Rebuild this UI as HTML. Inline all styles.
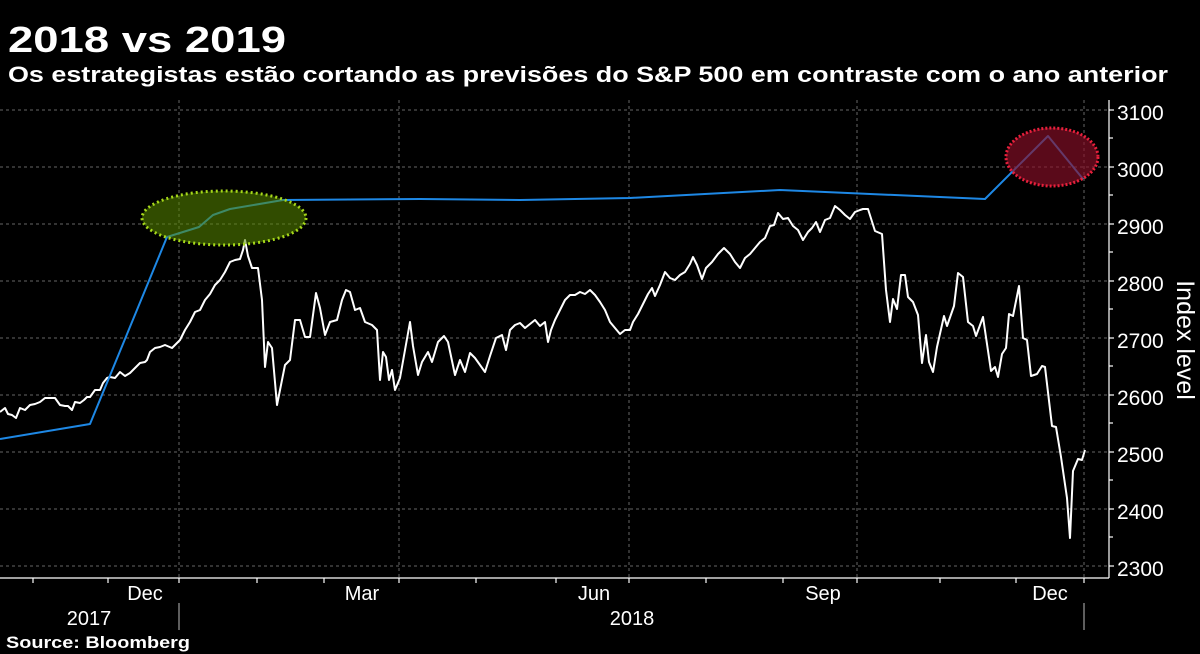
<!DOCTYPE html>
<html><head><meta charset="utf-8"><style>
html,body{margin:0;padding:0;background:#000;}
svg{display:block;font-family:"Liberation Sans",sans-serif;}
</style></head><body>
<svg width="1200" height="654" viewBox="0 0 1200 654" xmlns="http://www.w3.org/2000/svg">
<rect width="1200" height="654" fill="#000"/>
<text x="8" y="52" fill="#fff" font-size="36" font-weight="bold" textLength="278" lengthAdjust="spacingAndGlyphs">2018 vs 2019</text>
<text x="8" y="82" fill="#fff" font-size="22" font-weight="bold" textLength="1160" lengthAdjust="spacingAndGlyphs">Os estrategistas estão cortando as previsões do S&amp;P 500 em contraste com o ano anterior</text>
<g stroke="#666" stroke-width="1" stroke-dasharray="3,3">
<line x1="0" y1="110" x2="1108" y2="110"/><line x1="0" y1="167" x2="1108" y2="167"/>
<line x1="0" y1="224" x2="1108" y2="224"/><line x1="0" y1="281" x2="1108" y2="281"/>
<line x1="0" y1="338" x2="1108" y2="338"/><line x1="0" y1="395" x2="1108" y2="395"/>
<line x1="0" y1="452" x2="1108" y2="452"/><line x1="0" y1="509" x2="1108" y2="509"/>
<line x1="0" y1="566" x2="1108" y2="566"/>
<line x1="179" y1="100" x2="179" y2="578"/><line x1="399" y1="100" x2="399" y2="578"/>
<line x1="629" y1="100" x2="629" y2="578"/><line x1="857" y1="100" x2="857" y2="578"/>
<line x1="1084" y1="100" x2="1084" y2="578"/>
</g>
<g stroke="#fff" stroke-width="1.2">
<line x1="0" y1="578" x2="1109" y2="578"/>
<line x1="1109" y1="100" x2="1109" y2="578"/>
<line x1="33" y1="578" x2="33" y2="583"/><line x1="108" y1="578" x2="108" y2="583"/>
<line x1="179" y1="578" x2="179" y2="583"/><line x1="257" y1="578" x2="257" y2="583"/>
<line x1="324" y1="578" x2="324" y2="583"/><line x1="399" y1="578" x2="399" y2="583"/>
<line x1="476" y1="578" x2="476" y2="583"/><line x1="556" y1="578" x2="556" y2="583"/>
<line x1="629" y1="578" x2="629" y2="583"/><line x1="706" y1="578" x2="706" y2="583"/>
<line x1="783" y1="578" x2="783" y2="583"/><line x1="857" y1="578" x2="857" y2="583"/>
<line x1="940" y1="578" x2="940" y2="583"/><line x1="1016" y1="578" x2="1016" y2="583"/>
<line x1="1084" y1="578" x2="1084" y2="583"/>
<line x1="1109" y1="110" x2="1114" y2="110"/><line x1="1109" y1="138" x2="1113" y2="138"/>
<line x1="1109" y1="167" x2="1114" y2="167"/><line x1="1109" y1="195" x2="1113" y2="195"/>
<line x1="1109" y1="224" x2="1114" y2="224"/><line x1="1109" y1="252" x2="1113" y2="252"/>
<line x1="1109" y1="281" x2="1114" y2="281"/><line x1="1109" y1="309" x2="1113" y2="309"/>
<line x1="1109" y1="338" x2="1114" y2="338"/><line x1="1109" y1="366" x2="1113" y2="366"/>
<line x1="1109" y1="395" x2="1114" y2="395"/><line x1="1109" y1="423" x2="1113" y2="423"/>
<line x1="1109" y1="452" x2="1114" y2="452"/><line x1="1109" y1="480" x2="1113" y2="480"/>
<line x1="1109" y1="509" x2="1114" y2="509"/><line x1="1109" y1="537" x2="1113" y2="537"/>
<line x1="1109" y1="566" x2="1114" y2="566"/>
</g>
<g stroke="#bbb" stroke-width="1"><line x1="179" y1="603" x2="179" y2="630"/><line x1="1084" y1="603" x2="1084" y2="630"/></g>
<g fill="#fff" font-size="21">
<text x="1117" y="120">3100</text><text x="1117" y="177">3000</text><text x="1117" y="234">2900</text>
<text x="1117" y="291">2800</text><text x="1117" y="348">2700</text><text x="1117" y="405">2600</text>
<text x="1117" y="462">2500</text><text x="1117" y="519">2400</text><text x="1117" y="576">2300</text>
</g>
<g fill="#fff" font-size="20" text-anchor="middle">
<text x="145" y="600">Dec</text><text x="362" y="600">Mar</text><text x="594" y="600">Jun</text>
<text x="823" y="600">Sep</text><text x="1050" y="600">Dec</text>
<text x="89" y="625">2017</text><text x="632" y="625">2018</text>
</g>
<text transform="translate(1177,340) rotate(90)" fill="#fff" font-size="25" text-anchor="middle">Index level</text>
<text x="6" y="648" fill="#fff" font-size="17" font-weight="bold" textLength="184" lengthAdjust="spacingAndGlyphs">Source: Bloomberg</text>

<polyline fill="none" stroke="#fff" stroke-width="2" stroke-linejoin="round" points="0,412 5,408 8,414 12,415 16,418 20,408 25,410 30,405 35,404 40,402 45,398 50,398 55,398 60,405 65,406 68,406 72,410 75,402 80,403 84,400 87,397 90,397 95,390 100,390 103,383 107,378 110,377 115,378 120,372 125,376 130,373 135,368 140,363 145,362 147,360 150,352 155,348 160,347 165,345 172,348 180,340 185,330 190,322 195,312 200,310 205,300 210,294 215,285 220,280 225,272 230,262 235,260 240,259 243,250 245,240 248,256 252,268 258,268 262,300 265,367 268,342 272,348 277,405 280,390 285,365 290,360 295,320 300,320 305,337 310,337 316,293 320,308 325,335 330,322 337,320 342,300 346,290 350,292 355,310 360,308 365,322 372,325 377,330 380,380 383,352 386,357 389,380 392,370 395,390 400,378 405,350 410,322 413,346 418,375 422,362 428,352 432,362 438,342 444,336 448,342 455,375 460,360 465,372 470,353 475,358 480,365 485,372 490,356 496,338 502,335 506,350 510,330 515,325 520,323 525,328 530,324 535,320 540,326 545,322 548,342 551,330 555,320 560,310 565,300 570,295 575,295 580,292 585,294 590,290 595,295 600,302 605,310 610,322 615,328 620,334 625,330 630,330 633,322 638,314 643,304 648,294 652,288 655,296 660,285 665,272 670,278 675,280 680,275 685,272 690,264 693,257 697,265 702,279 706,268 712,262 718,254 724,248 730,254 735,262 740,268 745,258 750,254 755,248 760,242 765,238 770,226 774,225 778,213 783,219 788,218 793,226 798,230 803,240 808,232 812,228 816,222 820,232 825,220 830,218 835,206 840,210 845,215 850,219 855,212 860,210 863,209 868,209 875,231 882,234 886,290 890,322 893,299 897,309 901,275 905,275 908,297 913,302 918,315 922,363 926,335 929,362 933,372 937,347 944,316 947,326 954,306 958,273 963,277 968,322 973,326 976,336 983,317 991,371 995,367 998,377 1002,354 1006,348 1009,314 1013,316 1019,286 1023,338 1027,340 1031,376 1037,374 1042,366 1045,367 1052,426 1056,427 1061,457 1067,498 1070,538 1073,471 1078,459 1082,460 1085,450"/>

<polyline fill="none" stroke="#1e88e5" stroke-width="2" stroke-linejoin="round" points="0,439 90,424 167,237 199,227 213,215 230,209 283,200 420,199 520,200 630,198 780,190 985,199 1048,136 1083,179"/>

<ellipse cx="224" cy="218" rx="82" ry="27" fill="#5a8a00" fill-opacity="0.55" stroke="#a6d81a" stroke-width="3" stroke-dasharray="2,3"/>
<ellipse cx="1052" cy="157" rx="46" ry="29" fill="#8a1028" fill-opacity="0.65" stroke="#e8203c" stroke-width="3" stroke-dasharray="2,2"/>
</svg>
</body></html>
